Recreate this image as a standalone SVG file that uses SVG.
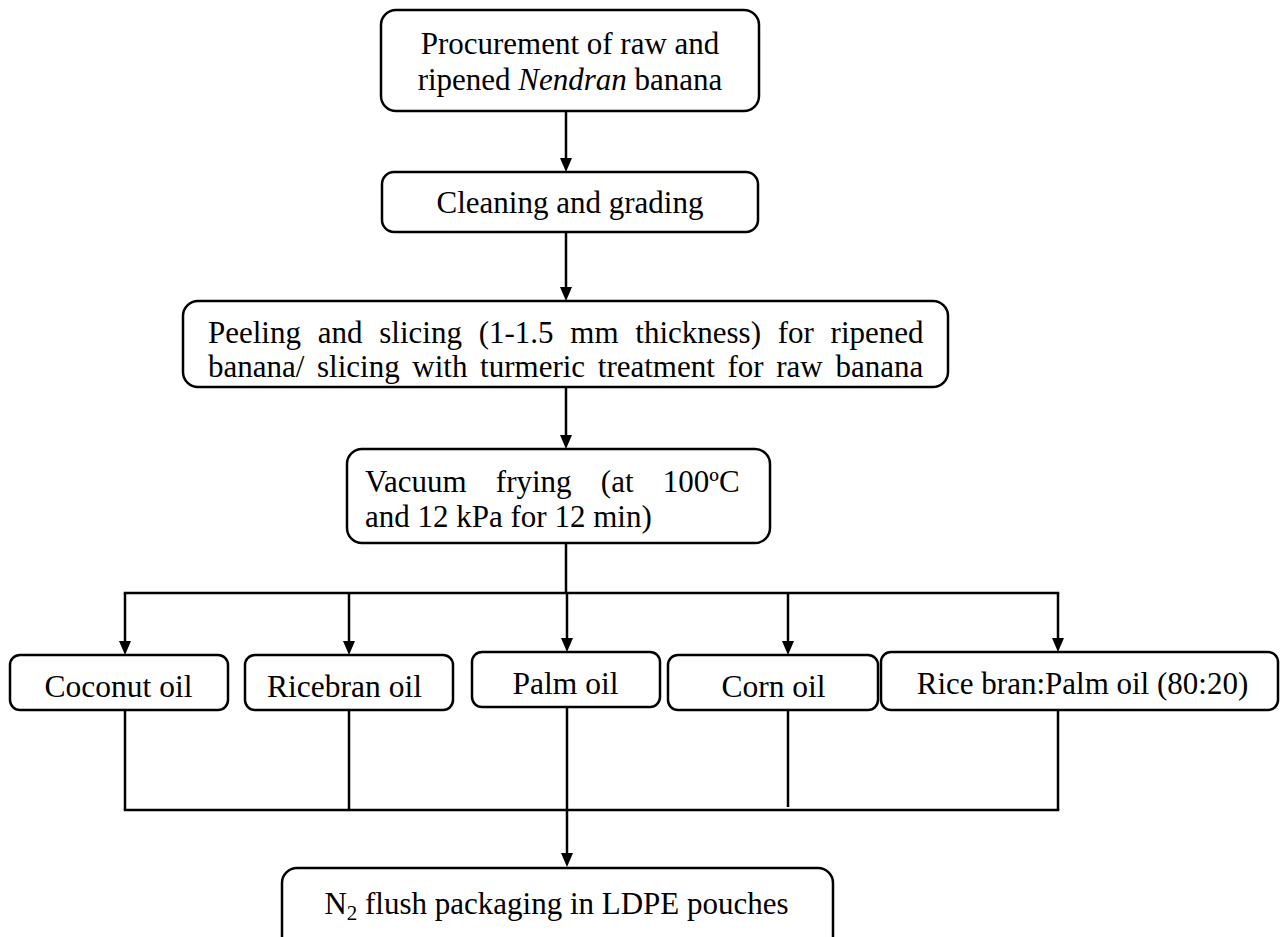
<svg xmlns="http://www.w3.org/2000/svg" width="1288" height="937" viewBox="0 0 1288 937">
<style>
.box{fill:#fff;stroke:#000;stroke-width:2.5}
.t{font-family:"Liberation Serif","Times New Roman",serif;font-size:31px;fill:#000}
.o{font-size:31.5px}
.c{text-anchor:middle}
.ln{stroke:#000;stroke-width:2.5;fill:none}
.ah{fill:#000}
</style>
<defs>
<clipPath id="clip3"><rect x="183" y="301" width="765" height="86" rx="15"/></clipPath>
</defs>
<rect width="1288" height="937" fill="#fff"/>
<g id="connectors">
<line class="ln" x1="566" y1="111" x2="566" y2="160"/>
<line class="ln" x1="566" y1="232" x2="566" y2="289"/>
<line class="ln" x1="566" y1="387" x2="566" y2="437"/>
<line class="ln" x1="566" y1="543" x2="566" y2="593"/>
<line class="ln" x1="123.75" y1="593" x2="1059.25" y2="593"/>
<line class="ln" x1="125" y1="593" x2="125" y2="643"/>
<line class="ln" x1="349" y1="593" x2="349" y2="643"/>
<line class="ln" x1="567" y1="593" x2="567" y2="640"/>
<line class="ln" x1="788" y1="593" x2="788" y2="643"/>
<line class="ln" x1="1058" y1="593" x2="1058" y2="640"/>
<line class="ln" x1="125" y1="710" x2="125" y2="810"/>
<line class="ln" x1="349" y1="710" x2="349" y2="810"/>
<line class="ln" x1="567" y1="707" x2="567" y2="855"/>
<line class="ln" x1="788" y1="705" x2="788" y2="807"/>
<line class="ln" x1="1058" y1="710" x2="1058" y2="810"/>
<line class="ln" x1="123.75" y1="810" x2="1059.25" y2="810"/>
<path class="ah" d="M560,158 L572,158 L566,172 Z"/>
<path class="ah" d="M560,287 L572,287 L566,301 Z"/>
<path class="ah" d="M560,435 L572,435 L566,449 Z"/>
<path class="ah" d="M119,641 L131,641 L125,655 Z"/>
<path class="ah" d="M343,641 L355,641 L349,655 Z"/>
<path class="ah" d="M561,638 L573,638 L567,652 Z"/>
<path class="ah" d="M782,641 L794,641 L788,655 Z"/>
<path class="ah" d="M1052,638 L1064,638 L1058,652 Z"/>
<path class="ah" d="M561,853 L573,853 L567,867 Z"/>
</g>
<g id="n1">
<rect class="box" x="381" y="10" width="378" height="101" rx="15"/>
<text class="t c" x="570" y="54">Procurement of raw and</text>
<text class="t c" x="570" y="90">ripened <tspan font-style="italic">Nendran</tspan> banana</text>
</g>
<g id="n2">
<rect class="box" x="382" y="172" width="376" height="60" rx="12"/>
<text class="t c" x="570" y="213">Cleaning and grading</text>
</g>
<g id="n3">
<rect class="box" x="183" y="301" width="765" height="86" rx="15"/>
<g clip-path="url(#clip3)">
<text class="t" x="208" y="343" word-spacing="9">Peeling and slicing (1-1.5 mm thickness) for ripened</text>
<text class="t" x="208" y="377" word-spacing="4.9">banana/ slicing with turmeric treatment for raw banana</text>
</g>
</g>
<g id="n4">
<rect class="box" x="347" y="449" width="423" height="94" rx="15"/>
<text class="t" x="365" y="492" word-spacing="21.5">Vacuum frying (at 100ºC</text>
<text class="t" x="365" y="527">and 12 kPa for 12 min)</text>
</g>
<g id="n5">
<rect class="box" x="10" y="655" width="218" height="55" rx="10"/>
<text class="t o c" x="118.5" y="697">Coconut oil</text>
</g>
<g id="n6">
<rect class="box" x="245" y="655" width="208" height="55" rx="10"/>
<text class="t o c" x="344.5" y="697">Ricebran oil</text>
</g>
<g id="n7">
<rect class="box" x="472" y="652" width="188" height="55" rx="10"/>
<text class="t o c" x="565.5" y="694">Palm oil</text>
</g>
<g id="n8">
<rect class="box" x="668" y="655" width="210" height="55" rx="10"/>
<text class="t o c" x="773.5" y="697">Corn oil</text>
</g>
<g id="n9">
<rect class="box" x="881" y="652" width="397" height="58" rx="10"/>
<text class="t c" x="1082.5" y="694" font-size="32.3">Rice bran:Palm oil (80:20)</text>
</g>
<g id="n10">
<rect class="box" x="282" y="868" width="551" height="90" rx="15"/>
<text class="t c" x="556.5" y="914" font-size="32">N<tspan font-size="21" dy="6">2</tspan><tspan dy="-6"> flush packaging in LDPE pouches</tspan></text>
</g>
</svg>
